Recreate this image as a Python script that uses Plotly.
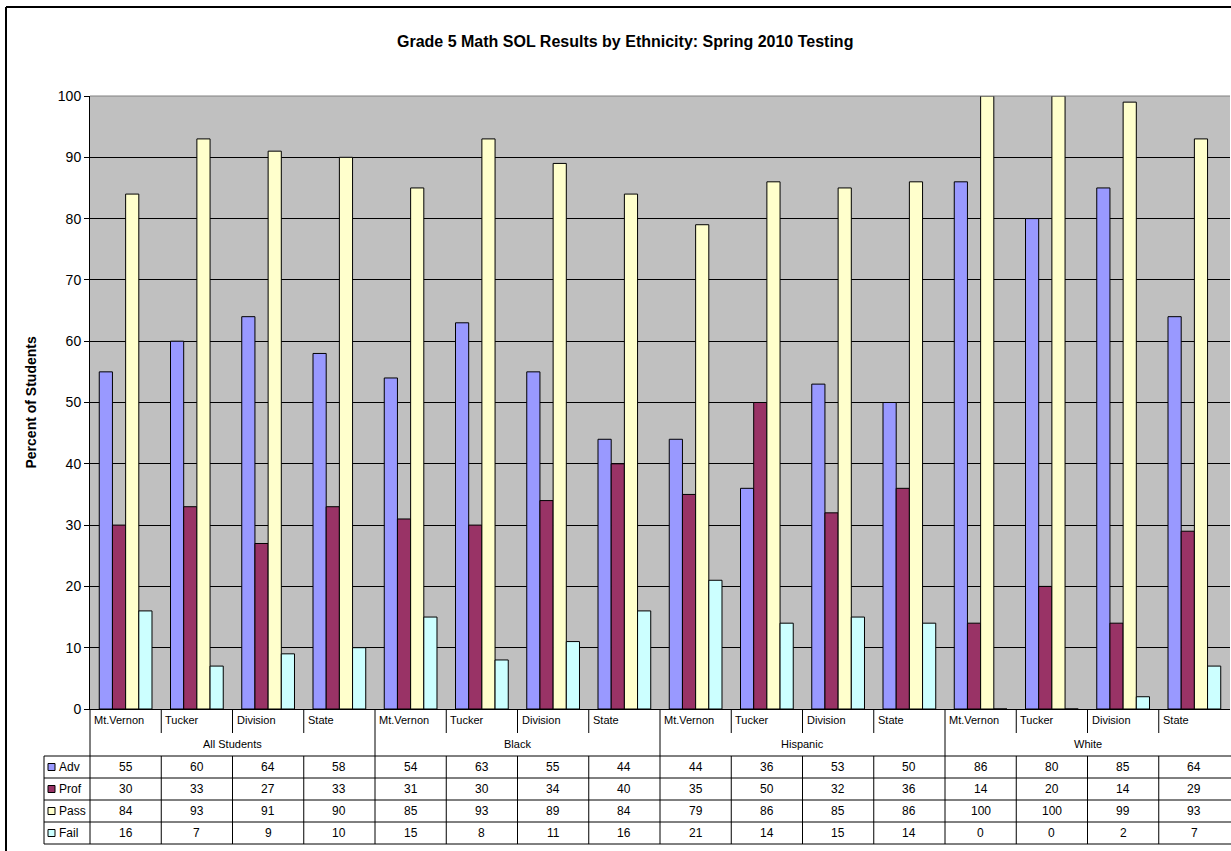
import plotly.graph_objects as go

# ---- data ----
groups = ["All Students", "Black", "Hispanic", "White"]
schools = ["Mt.Vernon", "Tucker", "Division", "State"]
series_names = ["Adv", "Prof", "Pass", "Fail"]
adv = [55, 60, 64, 58, 54, 63, 55, 44, 44, 36, 53, 50, 86, 80, 85, 64]
prof = [30, 33, 27, 33, 31, 30, 34, 40, 35, 50, 32, 36, 14, 20, 14, 29]
pass_ = [84, 93, 91, 90, 85, 93, 89, 84, 79, 86, 85, 86, 100, 100, 99, 93]
fail = [16, 7, 9, 10, 15, 8, 11, 16, 21, 14, 15, 14, 0, 0, 2, 7]
y_ticks = [0, 10, 20, 30, 40, 50, 60, 70, 80, 90, 100]

series_values = [adv, prof, pass_, fail]
colors = ["#9999FF", "#993366", "#FFFFCC", "#CCFFFF"]

W, H = 1231, 851
PL, PR, PT, PB = 90, 1230, 96, 709  # plot area in pixels
FONT = "Arial, Liberation Sans, sans-serif"

n_cols = len(groups) * len(schools)
col_w = (PR - PL) / n_cols


def px(x):
    return (x - PL) / (PR - PL)


def py(y):
    return (PB - y) / (PB - PT)


xs = list(range(n_cols))

fig = go.Figure()
for name, vals, col in zip(series_names, series_values, colors):
    fig.add_trace(go.Bar(
        x=xs, y=vals, name=name,
        marker=dict(color=col, line=dict(color="black", width=1)),
        showlegend=False,
    ))

shapes = []
annotations = []


def hline(y, x0, x1, color="black", width=1):
    shapes.append(dict(type="line", xref="paper", yref="paper",
                       x0=px(x0), x1=px(x1), y0=py(y), y1=py(y),
                       line=dict(color=color, width=width)))


def vline(x, y0, y1, color="black", width=1):
    shapes.append(dict(type="line", xref="paper", yref="paper",
                       x0=px(x), x1=px(x), y0=py(y0), y1=py(y1),
                       line=dict(color=color, width=width)))


# outer chart border
hline(7, 6, W + 5, width=2)
vline(6, 7, H + 5, width=2)

# plot area top border
hline(PT, PL, PR, color="#808080", width=1)

# data table geometry
TABLE_TOP = 756
ROW_H = 22
LEG_LEFT = 44
table_bottom = TABLE_TOP + ROW_H * len(series_names)

# category label row: short ticks between schools, full lines between groups
for i in range(1, n_cols):
    xb = PL + i * col_w
    if i % len(schools) == 0:
        vline(xb, PB, table_bottom)
    else:
        vline(xb, PB, PB + 24)
        vline(xb, TABLE_TOP, table_bottom)
vline(PL, PB, table_bottom)
vline(LEG_LEFT, TABLE_TOP, table_bottom)

# table horizontal lines
for r in range(len(series_names) + 1):
    hline(TABLE_TOP + r * ROW_H, LEG_LEFT, W + 5)

# school names and group names
for i in range(n_cols):
    annotations.append(dict(
        xref="paper", yref="paper", x=px(PL + i * col_w + 2), y=py(720),
        text=schools[i % len(schools)], showarrow=False,
        xanchor="left", yanchor="middle",
        font=dict(family=FONT, size=11, color="black")))
for g, gname in enumerate(groups):
    annotations.append(dict(
        xref="paper", yref="paper",
        x=px(PL + (g * len(schools) + len(schools) / 2) * col_w), y=py(744),
        text=gname, showarrow=False, xanchor="center", yanchor="middle",
        font=dict(family=FONT, size=11, color="black")))

# table rows: legend key + values
for r, (name, vals, col) in enumerate(zip(series_names, series_values, colors)):
    yc = TABLE_TOP + r * ROW_H + ROW_H / 2
    shapes.append(dict(type="rect", xref="paper", yref="paper",
                       x0=px(LEG_LEFT + 4), x1=px(LEG_LEFT + 11),
                       y0=py(yc + 3.5), y1=py(yc - 3.5),
                       fillcolor=col, line=dict(color="black", width=1)))
    annotations.append(dict(
        xref="paper", yref="paper", x=px(LEG_LEFT + 13), y=py(yc),
        text=name, showarrow=False, xanchor="left", yanchor="middle",
        font=dict(family=FONT, size=12, color="black")))
    for i, v in enumerate(vals):
        annotations.append(dict(
            xref="paper", yref="paper", x=px(PL + (i + 0.5) * col_w), y=py(yc),
            text=str(v), showarrow=False, xanchor="center", yanchor="middle",
            font=dict(family=FONT, size=12, color="black")))

# title and axis title
annotations.append(dict(
    xref="paper", yref="paper", x=px(625), y=py(42),
    text="<b>Grade 5 Math SOL Results by Ethnicity: Spring 2010 Testing</b>",
    showarrow=False, xanchor="center", yanchor="middle",
    font=dict(family=FONT, size=16, color="black")))
annotations.append(dict(
    xref="paper", yref="paper", x=px(30), y=py((PT + PB) / 2),
    text="<b>Percent of Students</b>", textangle=-90,
    showarrow=False, xanchor="center", yanchor="middle",
    font=dict(family=FONT, size=14, color="black")))

fig.update_layout(
    width=W, height=H,
    margin=dict(l=PL, r=W - PR, t=PT, b=H - PB, pad=0),
    paper_bgcolor="white",
    plot_bgcolor="#C0C0C0",
    barmode="group",
    bargap=0.26,
    bargroupgap=0,
    shapes=shapes,
    annotations=annotations,
    font=dict(family=FONT, size=12, color="black"),
)
fig.update_xaxes(
    range=[-0.5, n_cols - 0.5], showticklabels=False, ticks="",
    showgrid=False, zeroline=False, showline=True, linecolor="black",
    linewidth=1, fixedrange=True,
)
fig.update_yaxes(
    range=[0, 100], tickvals=y_ticks, ticks="outside", ticklen=5,
    tickcolor="black", showgrid=True, gridcolor="black", gridwidth=1,
    zeroline=False, showline=True, linecolor="black", linewidth=1,
    tickfont=dict(family=FONT, size=14, color="black"), fixedrange=True,
)

fig.write_html("out.html")
